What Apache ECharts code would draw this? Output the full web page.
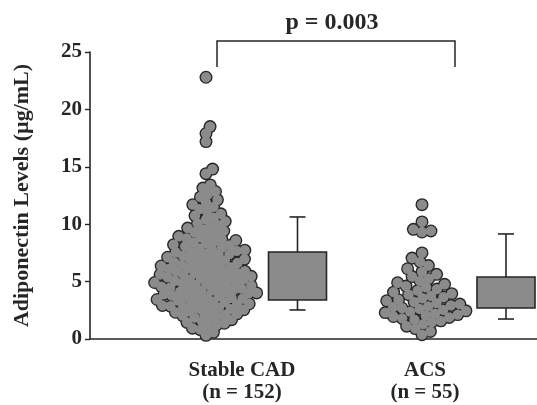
<!DOCTYPE html>
<html>
<head>
<meta charset="utf-8">
<script src="https://cdn.jsdelivr.net/npm/echarts@6/dist/echarts.min.js"></script>
<style>
  html, body { margin: 0; padding: 0; background: #fff; }
  #chart { width: 537px; height: 405px; }
</style>
</head>
<body>
<div id="chart"></div>
<script>
// ---------------- DATA ----------------
const categories = ['Stable CAD', 'ACS'];
const groupSizes = [152, 55];
const yTicks = [0, 5, 10, 15, 20, 25];
const yTitle = 'Adiponectin Levels (\u00b5g/mL)';
const pValueText = 'p = 0.003';

// estimated individual values (µg/mL)
const cadValues = [
  0.32, 0.58, 0.81, 0.94,
  1.08, 1.22, 1.37, 1.45, 1.56, 1.68, 1.77, 1.86, 1.95,
  2.04, 2.11, 2.19, 2.27, 2.33, 2.41, 2.48, 2.55, 2.61, 2.68, 2.74, 2.80, 2.87, 2.92, 2.98,
  3.02, 3.07, 3.16, 3.21, 3.25, 3.34, 3.41, 3.44, 3.52, 3.58, 3.61, 3.70, 3.73, 3.79, 3.88, 3.90, 3.98,
  4.01, 4.09, 4.12, 4.20, 4.23, 4.31, 4.36, 4.39, 4.47, 4.53, 4.56, 4.64, 4.68, 4.75, 4.79, 4.86, 4.92, 4.97,
  5.04, 5.07, 5.15, 5.20, 5.26, 5.29, 5.38, 5.43, 5.46, 5.55, 5.59, 5.62, 5.71, 5.76, 5.80, 5.87, 5.91, 5.99,
  6.05, 6.11, 6.18, 6.24, 6.31, 6.36, 6.44, 6.50, 6.57, 6.62, 6.69, 6.77, 6.83, 6.90, 6.96,
  7.03, 7.12, 7.19, 7.25, 7.33, 7.40, 7.46, 7.55, 7.61, 7.68, 7.74, 7.83, 7.90, 7.97,
  8.06, 8.15, 8.22, 8.33, 8.41, 8.50, 8.58, 8.67, 8.76, 8.85, 8.94,
  9.05, 9.18, 9.30, 9.41, 9.55, 9.66, 9.79, 9.92,
  10.08, 10.25, 10.41, 10.57, 10.74, 10.90,
  11.10, 11.32, 11.51, 11.70, 11.88,
  12.12, 12.38, 12.61, 12.85,
  13.15, 13.42,
  14.4, 14.8, 17.2, 17.9, 18.5, 22.8
];
const acsValues = [
  0.38, 0.66, 0.91,
  1.12, 1.30, 1.47, 1.58, 1.69, 1.80, 1.88, 1.96,
  2.05, 2.13, 2.21, 2.30, 2.38, 2.45, 2.53, 2.62, 2.70, 2.77, 2.85, 2.93,
  3.04, 3.13, 3.24, 3.33, 3.42, 3.55, 3.64, 3.75, 3.86, 3.95,
  4.08, 4.22, 4.35, 4.49, 4.61, 4.76, 4.90,
  5.06, 5.25, 5.44, 5.63, 5.85,
  6.12, 6.40, 6.71,
  7.05, 7.50,
  9.32, 9.41, 9.55,
  10.2, 11.7
];
// [lower whisker, Q1, Q3, upper whisker]
const cadBox = [2.53, 3.40, 7.58, 10.63];
const acsBox = [1.74, 2.70, 5.40, 9.15];

// ---------------- LAYOUT ----------------
const W = 537, H = 405;
const GRID = { left: 90, top: 52, right: 0, bottom: 66 };
const X_MAX = W - GRID.left - GRID.right;     // x units == pixels inside grid
const swarmCenters = [116, 332];
const boxCenters = [207.5, 416];
const labelCenters = [152, 335];
const swarmSep = [8, 9];
const DOT = 13;
const DOT_FILL = 10.3;
const FONT = "'Liberation Serif', 'DejaVu Serif', 'Times New Roman', serif";
const INK = '#262626';
const GRAY = '#8b8b8b';

const pxPerUnit = (H - GRID.top - GRID.bottom) / (yTicks[yTicks.length - 1] - yTicks[0]);

function swarm(values, sep) {
  const pts = values.map(v => ({ v: v, y: v * pxPerUnit, x: 0 })).sort((a, b) => a.y - b.y);
  const placed = [];
  for (const p of pts) {
    const cands = [0];
    for (const q of placed) {
      const dy = p.y - q.y;
      if (Math.abs(dy) < sep) {
        const dx = Math.sqrt(sep * sep - dy * dy);
        cands.push(q.x + dx, q.x - dx);
      }
    }
    cands.sort((a, b) => Math.abs(a) - Math.abs(b));
    for (const c of cands) {
      if (placed.every(q => (q.x - c) * (q.x - c) + (q.y - p.y) * (q.y - p.y) >= sep * sep - 1e-6)) {
        p.x = c; break;
      }
    }
    placed.push(p);
  }
  return placed;
}

const groups = [cadValues, acsValues];
const swarmData = [];
groups.forEach((vals, gi) => {
  swarm(vals, swarmSep[gi]).forEach(p => swarmData.push([swarmCenters[gi] + p.x, p.v]));
});

const boxData = [
  [boxCenters[0]].concat(cadBox),
  [boxCenters[1]].concat(acsBox)
];

const labelMap = {};
labelCenters.forEach((c, i) => { labelMap[c] = categories[i] + '\n(n = ' + groupSizes[i] + ')'; });

const chart = echarts.init(document.getElementById('chart'), null, { renderer: 'canvas' });
chart.setOption({
  animation: false,
  backgroundColor: '#ffffff',
  grid: { left: GRID.left, top: GRID.top, right: GRID.right, bottom: GRID.bottom, containLabel: false },
  xAxis: {
    type: 'value', min: 0, max: X_MAX,
    axisLine: { show: true, onZero: false, lineStyle: { color: INK, width: 1.6 } },
    axisTick: { show: false },
    splitLine: { show: false },
    axisLabel: {
      customValues: labelCenters,
      formatter: v => labelMap[v] || '',
      margin: 21,
      color: INK, fontFamily: FONT, fontWeight: 'bold', fontSize: 21, lineHeight: 22
    }
  },
  yAxis: {
    type: 'value', min: yTicks[0], max: yTicks[yTicks.length - 1], interval: 5,
    axisLine: { show: true, lineStyle: { color: INK, width: 1.6 } },
    axisTick: { show: true, length: 5, lineStyle: { color: INK, width: 1.4 } },
    splitLine: { show: false },
    axisLabel: { margin: 8, color: INK, fontFamily: FONT, fontWeight: 'bold', fontSize: 21 },
    name: yTitle, nameLocation: 'middle', nameGap: 57, nameRotate: 90,
    nameTextStyle: { color: INK, fontFamily: FONT, fontWeight: 'bold', fontSize: 22 }
  },
  series: [
    {
      type: 'scatter', data: swarmData, symbol: 'circle', symbolSize: DOT,
      itemStyle: { color: INK, opacity: 1 }, silent: true, z: 2
    },
    {
      type: 'scatter', data: swarmData, symbol: 'circle', symbolSize: DOT_FILL,
      itemStyle: { color: GRAY, opacity: 1 }, silent: true, z: 3
    },
    {
      type: 'custom', data: boxData, z: 4,
      renderItem: function (params, api) {
        const cx = api.value(0);
        const pLo = api.coord([cx, api.value(1)]);
        const pQ1 = api.coord([cx, api.value(2)]);
        const pQ3 = api.coord([cx, api.value(3)]);
        const pHi = api.coord([cx, api.value(4)]);
        const halfW = 29, capHalf = 8;
        const ls = { stroke: INK, lineWidth: 1.6 };
        return {
          type: 'group',
          children: [
            { type: 'line', shape: { x1: pHi[0], y1: pHi[1], x2: pQ3[0], y2: pQ3[1] }, style: ls },
            { type: 'line', shape: { x1: pLo[0], y1: pLo[1], x2: pQ1[0], y2: pQ1[1] }, style: ls },
            { type: 'line', shape: { x1: pHi[0] - capHalf, y1: pHi[1], x2: pHi[0] + capHalf, y2: pHi[1] }, style: ls },
            { type: 'line', shape: { x1: pLo[0] - capHalf, y1: pLo[1], x2: pLo[0] + capHalf, y2: pLo[1] }, style: ls },
            { type: 'rect', shape: { x: pQ3[0] - halfW, y: pQ3[1], width: 2 * halfW, height: pQ1[1] - pQ3[1] },
              style: { fill: GRAY, stroke: INK, lineWidth: 1.6 } }
          ]
        };
      }
    }
  ],
  graphic: [
    {
      type: 'polyline',
      shape: { points: [[217, 67], [217, 41], [455, 41], [455, 67]] },
      style: { stroke: INK, lineWidth: 1.5, fill: null }
    },
    {
      type: 'text', x: 332, y: 23,
      style: { text: pValueText, textAlign: 'center', textVerticalAlign: 'middle',
               fill: INK, font: "bold 24px " + FONT }
    }
  ]
});
</script>
</body>
</html>
